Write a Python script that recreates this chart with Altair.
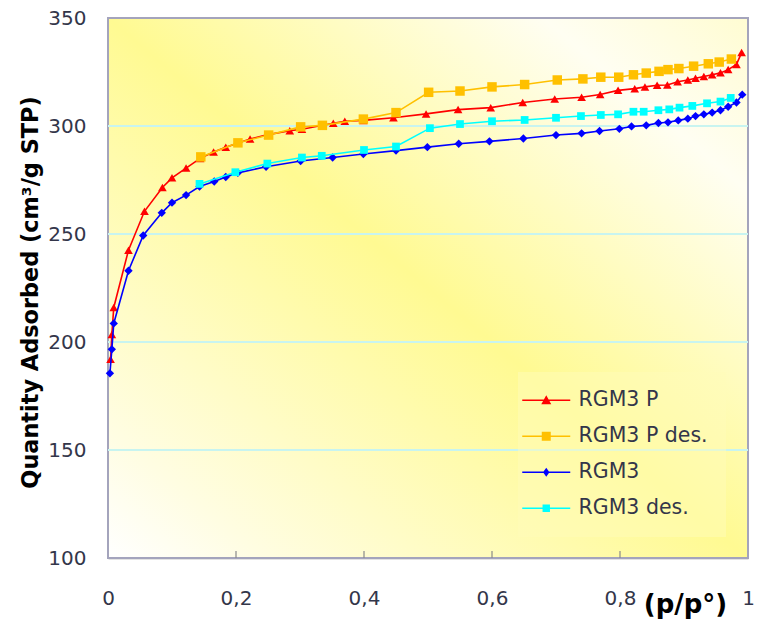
import altair as alt
import pandas as pd

series_names = ["RGM3 P", "RGM3 P des.", "RGM3", "RGM3 des."]
series_colors = ["#FF0000", "#FFC000", "#0000FF", "#00FFFF"]

rgm3p_x = [0.004, 0.006, 0.009, 0.032, 0.057, 0.085, 0.100, 0.122, 0.144, 0.165, 0.184,
           0.222, 0.250, 0.284, 0.303, 0.352, 0.370, 0.399, 0.446, 0.497, 0.547, 0.598,
           0.648, 0.698, 0.740, 0.769, 0.797, 0.823, 0.839, 0.858, 0.874, 0.890, 0.906,
           0.918, 0.931, 0.944, 0.957, 0.969, 0.982, 0.990]
rgm3p_y = [192, 203.5, 216, 242.5, 260.5, 271.5, 276, 280.5, 285, 288, 290.2,
           294, 296, 297.8, 298.5, 301.3, 302.2, 302.6, 303.8, 305.6, 307.6, 308.5,
           310.9, 312.5, 313.3, 314.6, 316.5, 317.3, 318.1, 318.9, 319, 320.5, 321.3,
           322.1, 322.9, 323.7, 324.6, 326.1, 328.5, 334]

rgm3p_des_x = [0.145, 0.203, 0.251, 0.301, 0.335, 0.399, 0.450, 0.501, 0.550, 0.600,
               0.651, 0.702, 0.742, 0.770, 0.798, 0.821, 0.841, 0.861, 0.875, 0.892,
               0.915, 0.938, 0.955, 0.974]
rgm3p_des_y = [285.7, 292.2, 295.8, 299.6, 300.3, 303.2, 306.2, 315.6, 316.2, 318.1,
               319.2, 321.3, 321.8, 322.6, 322.6, 323.7, 324.5, 325.3, 326.1, 326.6,
               327.7, 328.8, 329.6, 331]

rgm3_x = [0.003, 0.006, 0.009, 0.032, 0.055, 0.084, 0.100, 0.122, 0.143, 0.166, 0.184,
          0.203, 0.247, 0.301, 0.351, 0.399, 0.450, 0.499, 0.548, 0.596, 0.649, 0.700,
          0.740, 0.768, 0.799, 0.818, 0.841, 0.860, 0.875, 0.891, 0.906, 0.918, 0.931,
          0.944, 0.957, 0.969, 0.982, 0.991]
rgm3_y = [185.5, 196.6, 208.6, 233, 249.3, 259.8, 264.5, 268, 272, 274.3, 276.4,
          278.3, 281.1, 283.8, 285.4, 287, 288.6, 290.2, 291.8, 292.9, 294.2, 295.8,
          296.6, 297.7, 298.7, 299.8, 300.3, 301.4, 301.7, 302.6, 303.4, 304.6, 305.4,
          306.2, 307.3, 308.9, 310.9, 314.5]

rgm3_des_x = [0.143, 0.199, 0.249, 0.303, 0.334, 0.400, 0.450, 0.503, 0.550, 0.600,
              0.651, 0.700, 0.739, 0.770, 0.797, 0.821, 0.837, 0.860, 0.877, 0.893,
              0.913, 0.936, 0.957, 0.973]
rgm3_des_y = [273.2, 278.6, 282.6, 285.4, 286.2, 288.9, 290.5, 299, 300.9, 302.2,
              302.8, 303.8, 304.6, 305.1, 305.4, 306.6, 306.6, 307.3, 307.7, 308.5,
              309.3, 310.5, 311.3, 313]

x_ticks = [0, 0.2, 0.4, 0.6, 0.8, 1]
inner_ticks = [0.2, 0.4, 0.6, 0.8]
y_ticks = [100, 150, 200, 250, 300, 350]
grid_values = [150, 200, 250, 300]

W, H = 640, 540
FONT = "DejaVu Sans"

xscale = alt.Scale(domain=[0, 1], nice=False, zero=False)
yscale = alt.Scale(domain=[100, 350], nice=False, zero=False)

x_axis = alt.Axis(values=x_ticks, labelExpr="replace(toString(datum.value), '.', ',')",
                  labelFlush=False, ticks=False, grid=False, domainColor="#8E8E8E",
                  domainWidth=1.5, labelFont=FONT, labelFontSize=20, labelColor="#33364A",
                  labelPadding=30, title="(p/p°)", titleFont=FONT, titleFontSize=26,
                  titleFontWeight="bold", titleColor="#000000", titleX=577, titleY=46,
                  titleBaseline="middle", titleAnchor="middle")
y_axis = alt.Axis(values=y_ticks, ticks=False, grid=False, domainColor="#8E8E8E",
                  domainWidth=1.5, labelFont=FONT, labelFontSize=20, labelColor="#33364A",
                  labelPadding=22, title="Quantity Adsorbed (cm³/g STP)", titleFont=FONT,
                  titleFontSize=22.4, titleFontWeight="bold", titleColor="#000000",
                  titleX=-78, titleY=274, titleBaseline="middle", titleAngle=270)

x_enc = alt.X("x:Q", scale=xscale, axis=x_axis)
y_enc = alt.Y("y:Q", scale=yscale, axis=y_axis)

bg = alt.Chart(pd.DataFrame({"a": [0]})).mark_rect(
    fill=alt.LinearGradient(
        gradient="linear", x1=0, y1=1, x2=1, y2=0,
        stops=[alt.GradientStop(color="#FFFFFF", offset=0),
               alt.GradientStop(color="#FFFDE2", offset=0.12),
               alt.GradientStop(color="#FFFA92", offset=0.5),
               alt.GradientStop(color="#FFFEF2", offset=0.84),
               alt.GradientStop(color="#FFFCD2", offset=1)]),
    stroke="#A4A4BC", strokeWidth=2
).encode(x=alt.value(0), x2=alt.value(W), y=alt.value(0), y2=alt.value(H))

grid = alt.Chart(pd.DataFrame({"y": grid_values})).mark_rule(
    color="#C8F4F0", strokeWidth=2
).encode(y=y_enc, x=alt.value(0), x2=alt.value(W))

ticks = alt.Chart(pd.DataFrame({"x": inner_ticks})).mark_rule(
    color="#8A8A8A", strokeWidth=1.2
).encode(x=x_enc, y=alt.value(H - 7), y2=alt.value(H))

layers = [bg, grid, ticks]

series = [
    (rgm3p_x, rgm3p_y, "#FF0000", "triangle-up", 75),
    (rgm3p_des_x, rgm3p_des_y, "#FFC000", "square", 90),
    (rgm3_x, rgm3_y, "#0000FF", "diamond", 70),
    (rgm3_des_x, rgm3_des_y, "#00FFFF", "square", 60),
]
for xs, ys, col, shp, sz in series:
    df = pd.DataFrame({"x": xs, "y": ys})
    base = alt.Chart(df).encode(x=x_enc, y=y_enc)
    layers.append(base.mark_line(color=col, strokeWidth=1.6))
    layers.append(base.mark_point(filled=True, shape=shp, size=sz, color=col, opacity=1))

line_part = "M-2.4,-0.08H2.4V0.08H-2.4Z"
legend_paths = [
    line_part + " M-0.5,0.4L0,-0.5L0.5,0.4Z",
    line_part + " M-0.45,-0.45H0.45V0.45H-0.45Z",
    line_part + " M0,-0.45L0.32,0L0,0.45L-0.32,0Z",
    line_part + " M-0.37,-0.37H0.37V0.37H-0.37Z",
]

leg = alt.Legend(title=None, orient="none", legendX=410, legendY=354, padding=18,
                 fillColor="rgba(255,251,185,0.5)",
                 labelFont=FONT, labelFontSize=20.5, labelColor="#33364A",
                 symbolSize=400, rowPadding=15, labelOffset=22, symbolStrokeWidth=0,
                 symbolOpacity=1)

legend_layer = alt.Chart(pd.DataFrame({"series": series_names})).transform_filter(
    "false").mark_point(filled=True, size=400, opacity=1).encode(
    color=alt.Color("series:N", scale=alt.Scale(domain=series_names, range=series_colors),
                    legend=leg),
    shape=alt.Shape("series:N", scale=alt.Scale(domain=series_names, range=legend_paths),
                    legend=leg),
)
layers.append(legend_layer)

chart = alt.layer(*layers).properties(
    width=W, height=H,
    autosize=alt.AutoSizeParams(type="none"),
    padding={"left": 108, "top": 18, "right": 10, "bottom": 63},
    background="#FFFFFF",
).configure_view(stroke=None)

chart.save("out.html", embed_options={"renderer": "svg", "actions": False})
